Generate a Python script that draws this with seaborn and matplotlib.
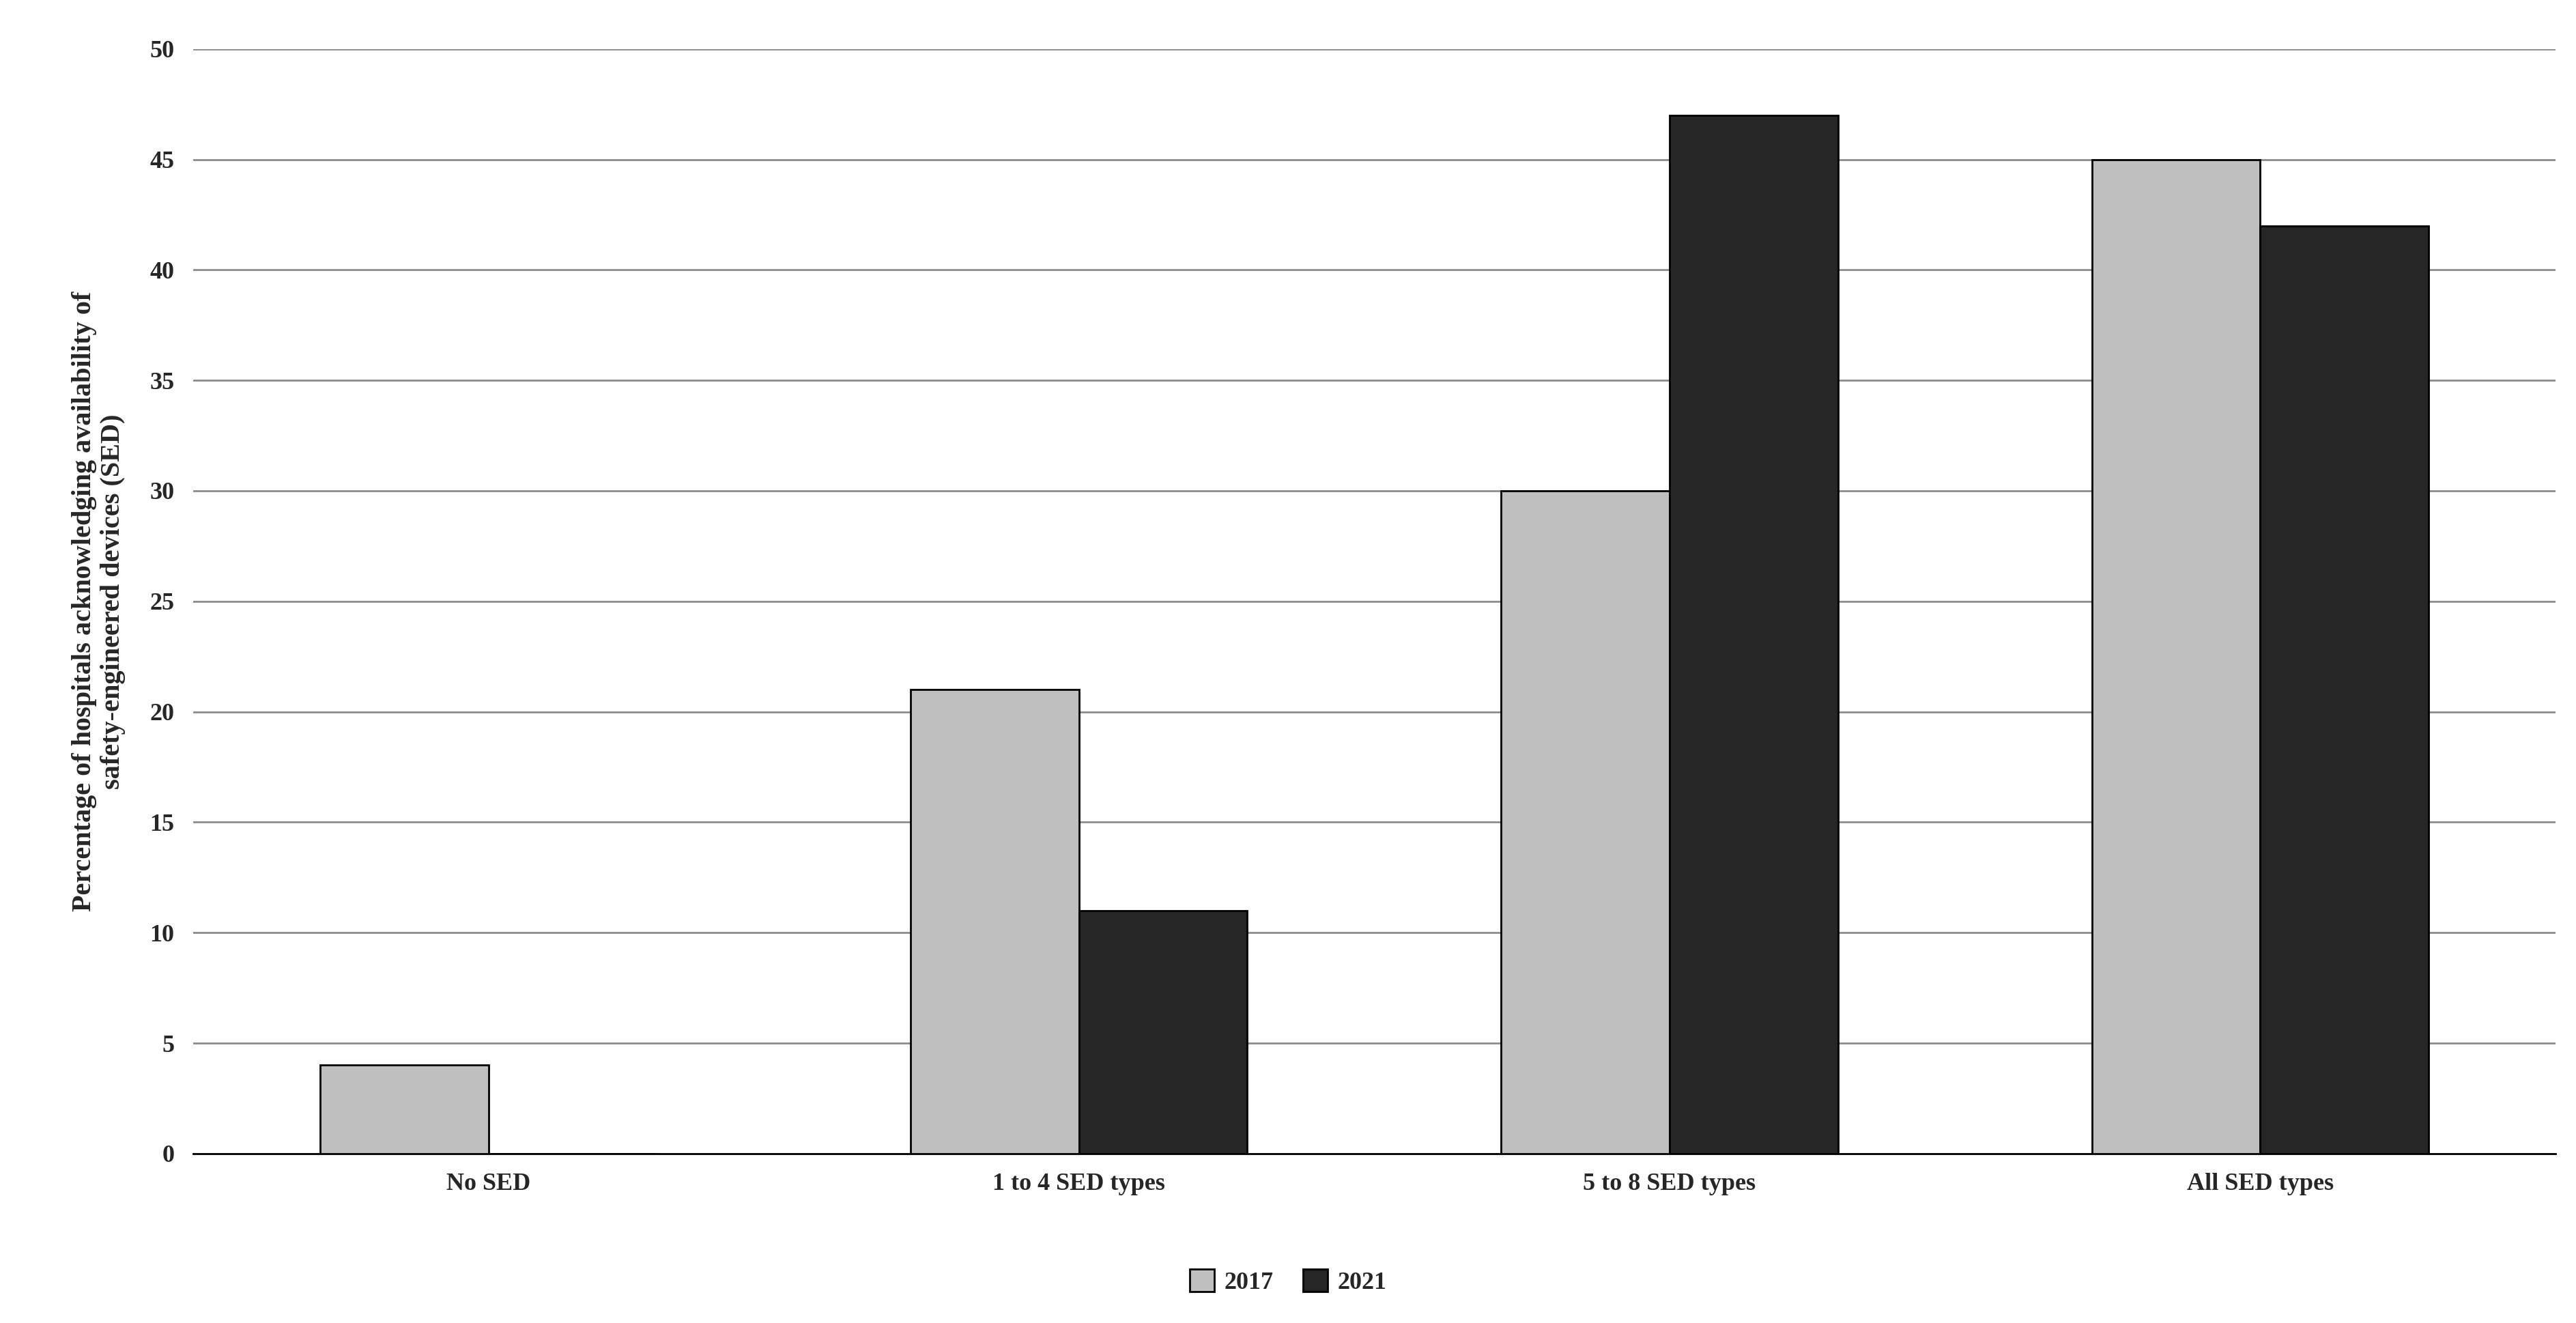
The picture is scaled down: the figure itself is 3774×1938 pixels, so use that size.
import matplotlib
matplotlib.use("Agg")
import matplotlib.pyplot as plt
import seaborn as sns
import pandas as pd

categories = ["No SED", "1 to 4 SED types", "5 to 8 SED types", "All SED types"]
years = ["2017", "2021"]
values_2017 = [4, 21, 30, 45]
values_2021 = [0, 11, 47, 42]

df = pd.DataFrame({
    "category": categories * 2,
    "year": [years[0]] * 4 + [years[1]] * 4,
    "value": values_2017 + values_2021,
})

sns.set_style("white")
plt.rcParams["font.family"] = ["Liberation Serif", "DejaVu Serif"]
plt.rcParams["font.weight"] = "bold"

fig = plt.figure(figsize=(37.74, 19.38), dpi=100)
ax = fig.add_axes([0.075, 0.128, 0.917, 0.835])
sns.barplot(data=df, x="category", y="value", hue="year", order=categories,
            hue_order=years, palette=["#bfbfbf", "#262626"], width=0.57,
            edgecolor="black", linewidth=2, saturation=1, ax=ax, zorder=3)

ax.set_ylim(0, 50)
ax.set_yticks(range(0, 51, 5))
ax.yaxis.grid(True, color="#8c8c8c", linewidth=2, zorder=0)
ax.set_axisbelow(True)
for s in ["left", "right", "top"]:
    ax.spines[s].set_visible(False)
ax.spines["bottom"].set_color("black")
ax.spines["bottom"].set_linewidth(2)
ax.tick_params(axis="both", labelsize=26, length=0, pad=20)
for t in ax.get_xticklabels() + ax.get_yticklabels():
    t.set_fontweight("bold")
ax.set_xlabel("")
ax.set_ylabel("Percentage of hospitals acknowledging availability of\nsafety-engineered devices (SED)",
              fontsize=29, fontweight="bold", labelpad=25)

ax.legend_.remove()
handles, labels = ax.get_legend_handles_labels()
fig.legend(handles, labels, loc="lower center", bbox_to_anchor=(0.5, 0.005), ncol=2,
           frameon=False, fontsize=26, handlelength=1, handleheight=1,
           columnspacing=1.2, handletextpad=0.4)

fig.savefig("out.png", dpi=100)
